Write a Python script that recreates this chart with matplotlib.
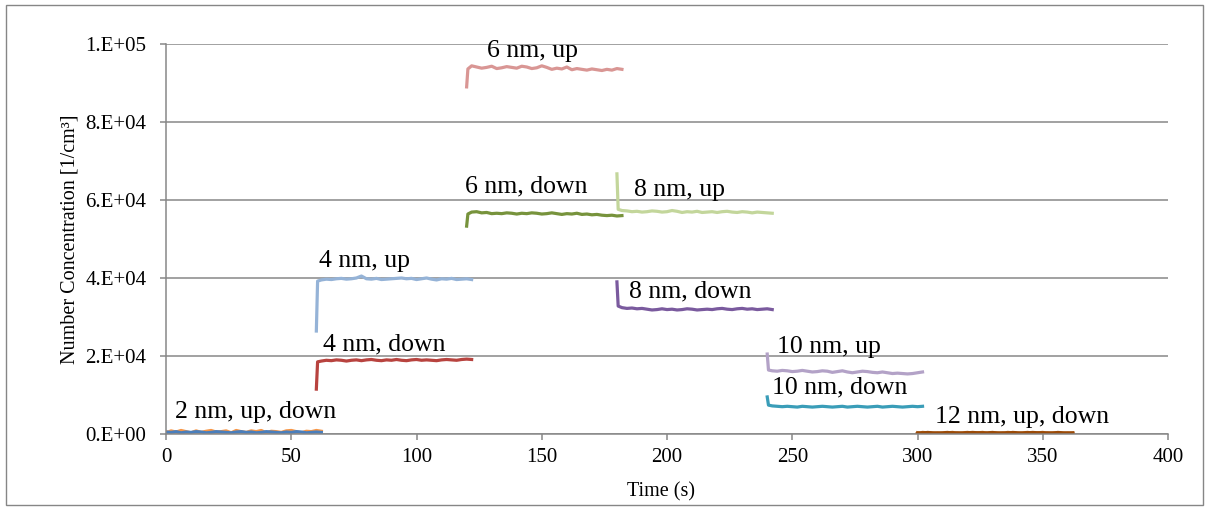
import numpy as np
import matplotlib.pyplot as plt
from matplotlib.patches import Rectangle
from matplotlib.ticker import FuncFormatter

plt.rcParams['font.family'] = ['Liberation Serif', 'DejaVu Serif']

# sampling offsets (s) within each 60 s measurement window
offs = [0, 0.5, 2, 4, 6, 8, 10, 12, 14, 16, 18, 20, 22, 24, 26, 28, 30, 32,
        34, 36, 38, 40, 42, 44, 46, 48, 50, 52, 54, 56, 58, 60, 62]

# start time of each window (s)
start_2 = 0
start_4 = 60
start_6 = 120
start_8 = 180
start_10 = 240
start_12 = 300

# number concentration, 1/cm3
nc_2_up = [300, 500, 400, 600, 300, 500, 400, 600, 500, 300, 400, 600, 500, 400, 300, 500,
           600, 400, 500, 300, 400, 600, 500, 400, 300, 500, 400, 600, 500, 300, 400, 500, 400]
nc_2_down = [600, 400, 800, 500, 900, 600, 300, 800, 400, 700, 900, 500, 600, 800, 300, 900,
             600, 400, 800, 600, 900, 300, 700, 600, 400, 800, 900, 600, 300, 700, 600, 900, 700]
nc_4_up = [26400, 39200, 39500, 39700, 39600, 39800, 39900, 39700, 39800, 40000, 40500, 39800,
           39700, 39900, 39600, 39700, 39800, 39900, 40000, 39800, 39900, 39600, 39800, 40000,
           39700, 39500, 39800, 39700, 39900, 39600, 39700, 39800, 39600]
nc_4_down = [11500, 18500, 18700, 18900, 18800, 19000, 18900, 18700, 18900, 19000, 18800, 19000,
             19100, 18900, 18800, 19000, 18900, 19100, 18900, 18800, 19000, 19100, 18900, 19000,
             18900, 18800, 19000, 19100, 19000, 18900, 19100, 19200, 19100]
nc_6_up = [89000, 93600, 94400, 94100, 93800, 94000, 94300, 93700, 93900, 94200, 94000, 93800,
           94300, 94100, 93700, 93900, 94400, 94000, 93500, 93800, 93600, 94100, 93400, 93700,
           93500, 93300, 93600, 93400, 93200, 93500, 93300, 93700, 93500]
nc_6_down = [53300, 56400, 56900, 57000, 56700, 56800, 56500, 56600, 56500, 56700, 56600, 56400,
             56600, 56500, 56700, 56600, 56400, 56500, 56700, 56500, 56300, 56500, 56400, 56600,
             56300, 56400, 56200, 56300, 56100, 56000, 56100, 55900, 56000]
nc_8_up = [66700, 57600, 57300, 57200, 57000, 57100, 56900, 57000, 57200, 57100, 56900, 57000,
           57300, 57100, 56800, 57000, 56900, 57100, 56800, 56900, 57000, 56800, 57000, 57100,
           56900, 56800, 57000, 56900, 56700, 56900, 56800, 56700, 56600]
nc_8_down = [39000, 32800, 32400, 32200, 32300, 32100, 32200, 32000, 31800, 31900, 32100, 31900,
             32000, 31800, 31900, 32100, 32000, 31800, 31900, 32000, 31900, 32100, 32200, 32000,
             31900, 32100, 32200, 32000, 32100, 31900, 32000, 32100, 31900]
nc_10_up = [20500, 16400, 16200, 16100, 16300, 16200, 16000, 16100, 16300, 16100, 15900, 16000,
            16200, 16100, 15800, 16000, 16200, 15900, 15700, 15900, 16100, 16000, 15800, 15700,
            15900, 15700, 15500, 15600, 15500, 15400, 15500, 15700, 15900]
nc_10_down = [9500, 7400, 7200, 7100, 7000, 7100, 7000, 6900, 7100, 7000, 6900, 7000, 7100,
              7000, 6900, 7000, 7100, 6900, 7000, 7100, 7000, 6900, 7000, 7100, 6900, 7000,
              7100, 7000, 6900, 7000, 7100, 7000, 7100]
nc_12_up = [200, 300, 200, 400, 300, 200, 300, 400, 200, 300, 200, 300, 400, 300, 200, 300,
            400, 200, 300, 200, 400, 300, 200, 300, 400, 300, 200, 300, 200, 400, 300, 200, 300]
nc_12_down = [300, 200, 400, 300, 200, 300, 200, 300, 400, 200, 300, 400, 200, 300, 400, 200,
              300, 300, 200, 400, 300, 200, 300, 400, 200, 300, 400, 200, 300, 300, 200, 300, 200]

series = [
    (start_2, nc_2_down, '#F79646'),
    (start_2, nc_2_up, '#4A7EBB'),
    (start_4, nc_4_up, '#95B3D7'),
    (start_4, nc_4_down, '#B8433F'),
    (start_6, nc_6_up, '#D99694'),
    (start_6, nc_6_down, '#77933C'),
    (start_8, nc_8_up, '#C3D69B'),
    (start_8, nc_8_down, '#7A5A9E'),
    (start_10, nc_10_up, '#B3A2C7'),
    (start_10, nc_10_down, '#3A9DB8'),
    (start_12, nc_12_down, '#A8560F'),
    (start_12, nc_12_up, '#9A4A08'),
]

labels = ['2 nm, up, down', '4 nm, up', '4 nm, down', '6 nm, up', '6 nm, down',
          '8 nm, up', '8 nm, down', '10 nm, up', '10 nm, down', '12 nm, up, down']
label_x = [3.6, 61.1, 62.7, 128.1, 119.4, 186.8, 184.8, 243.9, 241.9, 307.0]
label_y = [4100, 42800, 21500, 96700, 62000, 61000, 34900, 20800, 10500, 2800]

fig = plt.figure(figsize=(12.05, 5.08), dpi=100)
ax = fig.add_axes([0.1378, 0.1457, 0.8315, 0.7677])

grid_c = '#878787'
for t0, vals, c in series:
    ax.plot(np.array(offs) + t0, vals, color=c, lw=2.3, solid_joinstyle='round')

for s, x, y in zip(labels, label_x, label_y):
    ax.text(x, y, s, fontsize=18.5, ha='left', va='baseline')


def sci_label(v, pos):
    if v == 0:
        return '0.E+00'
    e = int(np.floor(np.log10(v)))
    return '%d.E+%02d' % (round(v / 10 ** e), e)


ax.set_xlim(0, 400)
ax.set_ylim(0, 100000)
ax.set_xticks(np.arange(0, 401, 50))
ax.set_yticks(np.arange(0, 100001, 20000))
ax.yaxis.set_major_formatter(FuncFormatter(sci_label))
ax.grid(axis='y', color=grid_c, lw=1.1)
ax.set_axisbelow(True)
for side in ['top', 'right']:
    ax.spines[side].set_visible(False)
for side in ['left', 'bottom']:
    ax.spines[side].set_color(grid_c)
    ax.spines[side].set_linewidth(1.1)
ax.tick_params(axis='both', direction='out', length=4, width=1.1, color=grid_c, labelsize=15)
ax.tick_params(axis='y', pad=10)
ax.tick_params(axis='x', pad=6)

ax.set_xlabel('Time (s)', fontsize=14.5)
ax.set_ylabel('Number Concentration [1/cm³]', fontsize=14.5)
ax.xaxis.set_label_coords(0.494, -0.124)
ax.yaxis.set_label_coords(-0.086, 0.5)

# outer chart frame
fig.patches.append(Rectangle((0.005, 0.006), 0.993, 0.985, transform=fig.transFigure,
                             fill=False, edgecolor='#868686', lw=1.0))

fig.savefig('out.png', dpi=100)
